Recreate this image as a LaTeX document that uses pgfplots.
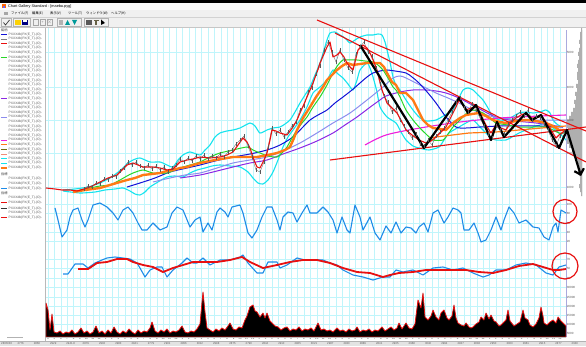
\documentclass[border=0pt]{standalone}
\usepackage{fontspec}
\setmainfont{Liberation Sans}
\newfontfamily\jp{Noto Sans CJK JP}
\usepackage{pgfplots}
\pgfplotsset{compat=1.18}
\usetikzlibrary{arrows.meta}
\definecolor{gridc}{RGB}{192,245,251}
\definecolor{bandc}{RGB}{20,228,238}
\definecolor{mared}{RGB}{232,16,16}
\definecolor{maorange}{RGB}{255,122,20}
\definecolor{magreen}{RGB}{40,215,40}
\definecolor{mablue}{RGB}{18,18,215}
\definecolor{malav}{RGB}{140,140,238}
\definecolor{mapurple}{RGB}{140,40,228}
\definecolor{mamag}{RGB}{238,30,220}
\definecolor{oscblue}{RGB}{30,140,232}
\definecolor{histg}{RGB}{175,175,175}
\definecolor{chromec}{RGB}{240,240,240}
\definecolor{edgelav}{RGB}{170,170,222}
\definecolor{myolive}{RGB}{110,110,20}
\definecolor{mysalmon}{RGB}{240,140,120}
\newcommand\tf{\fontsize{3.3}{3.6}\selectfont}
\pgfplotsset{panel/.style={scale only axis, width=520pt, xmin=46, xmax=566,
  anchor=south west, axis line style={draw=none}, tick style={draw=none},
  xtick={48,54.4,...,560}, xticklabels={}, grid=major,
  major grid style={gridc, line width=0.4pt}, clip=false,
  yticklabel pos=right,
  yticklabel style={font=\fontsize{3}{3}\selectfont, text=gray!70!black, inner sep=0.6pt}}}
\begin{document}
\begin{tikzpicture}[x=1pt,y=1pt]
\useasboundingbox (0,0) rectangle (586,346);
\fill[white] (0,0) rectangle (586,346);
% window chrome
\fill[chromec] (0,318) rectangle (586,343);
\fill[white!97!gray] (0,336) rectangle (586,343);
\fill[black] (0,343) rectangle (586,346);
\draw[gray!45, line width=0.5pt] (0,318.3) -- (586,318.3);
\draw[gray!35, line width=0.4pt] (0,328.6) -- (586,328.6);
\fill[orange!80!red] (2,337.6) rectangle (6,341.6);
\fill[blue!60] (3,338.3) rectangle (5,340.2);
\node[anchor=west, inner sep=0, font=\fontsize{3.8}{4}\selectfont] at (8,339.6) {Chart Gallery Standard - [maeba.pyg]};
\fill[gray!70] (4,330.5) rectangle (8,334);
\node[anchor=west, inner sep=0, font=\jp\fontsize{3.3}{4}\selectfont] at (11,332.2) {ファイル(F)};
\node[anchor=west, inner sep=0, font=\jp\fontsize{3.3}{4}\selectfont] at (32,332.2) {編集(E)};
\node[anchor=west, inner sep=0, font=\jp\fontsize{3.3}{4}\selectfont] at (50,332.2) {表示(V)};
\node[anchor=west, inner sep=0, font=\jp\fontsize{3.3}{4}\selectfont] at (68,332.2) {ツール(T)};
\node[anchor=west, inner sep=0, font=\jp\fontsize{3.3}{4}\selectfont] at (86,332.2) {ウィンドウ(W)};
\node[anchor=west, inner sep=0, font=\jp\fontsize{3.3}{4}\selectfont] at (111,332.2) {ヘルプ(H)};
% toolbar icons
\draw[gray!60] (1.5,319.5) rectangle (11.5,327.5);
\draw[black!80, line width=0.7pt] (3.5,323.5) -- (5.5,321) -- (9.5,326);
\draw[gray!60] (13,319.5) rectangle (30,327.5);
\fill[yellow!70!orange] (14.5,321) rectangle (20.5,326);
\fill[blue!50!black] (22,321) rectangle (28,326);
\fill[white] (23.2,323.8) rectangle (26.8,326);
\foreach \xx in {33,40,47} {\draw[gray!70, line width=0.4pt] (\xx,320.5) rectangle (\xx+5.5,326.5);}
\node[font=\fontsize{3.5}{4}\selectfont, text=gray] at (42.7,323.5) {+};
\node[font=\fontsize{3.5}{4}\selectfont, text=gray] at (49.7,323.5) {$\times$};
\draw[gray!60] (57,319.5) rectangle (81,327.5);
\fill[gray!60] (59,321) rectangle (63,326);
\fill[teal!80!cyan] (65,321) -- (70,321) -- (67.5,326) -- cycle;
\fill[teal!80!cyan] (72,326) -- (77,326) -- (74.5,321) -- cycle;
\draw[gray!60] (84,319.5) rectangle (108,327.5);
\fill[gray!70!black] (86,321) rectangle (92,326);
\fill[black!70!yellow] (95,321) rectangle (97,326);
\fill[black!70!yellow] (93.5,324.5) rectangle (98.5,326.3);
\fill[black] (101,321) -- (101,326.5) -- (105,323) -- cycle;
% left panel
\draw[gray!55, line width=1pt] (45,4.5) -- (45,318);
\node[anchor=west, inner sep=0, font=\jp\fontsize{3.2}{3.6}\selectfont, text=black!75] at (1,316) {銘柄};
\foreach \i in {0,...,29} {
  \node[anchor=west, inner sep=0, font=\tf, text=black!65] at (8.5,346-34.3-4.6*\i) {PXXXdb(PX(E\_T)-(O)-};
}
\foreach \i/\c/\w in {0/mablue/0.9, 1/gray/0.4, 2/mared/0.9, 5/magreen/0.9, 14/mapurple/0.9, 18/malav/0.9, 23/mamag/0.9, 24/maorange/0.9, 25/myolive/1.6, 26/mysalmon/0.7, 27/bandc/0.9, 28/bandc/0.9, 29/maorange/1.6} {
  \draw[\c, line width=\w pt] (1,346-34.3-4.6*\i) -- (7,346-34.3-4.6*\i);
}
\node[anchor=west, inner sep=0, font=\jp\fontsize{3.2}{3.6}\selectfont, text=black!75] at (1,172) {指標};
\foreach \py in {179,183.6,188.2,197.8,202.4,208.7,213,217.3} {
  \node[anchor=west, inner sep=0, font=\tf, text=black!65] at (8.5,346-\py) {PXXXdb(PX(E\_T)-(O)-};
}
\node[anchor=west, inner sep=0, font=\jp\fontsize{3.2}{3.6}\selectfont, text=black!75] at (1,153) {指標};
\draw[oscblue, line width=0.9pt] (1,346-188.2) -- (7,346-188.2);
\draw[mared, line width=1.2pt] (1,346-202.4) -- (7,346-202.4);
\draw[black!80, line width=0.9pt] (1,346-208.7) -- (7,346-208.7);
\draw[mared, line width=1.2pt] (1,346-217.3) -- (7,346-217.3);
\draw[gray!60, line width=0.8pt] (7,8.3) -- (23,8.3);
% bottom date strip
\fill[gray!22] (0,0) rectangle (586,4.4);
\draw[gray!60, line width=0.3pt] (0,4.4) -- (586,4.4);
\foreach \t [count=\k from 0] in {28/05/30,2776,2858,2929,2941.8,2879,2902,2983,2941,2779,2901,2956,3012,2998,2875,2790,2844,2910,2965,3021,2987,2930,2889,2841,2905,2968,3040,2994,2937,2882,2950,3003,2961,2915,2877,2930} {
  \node[anchor=west, inner sep=0, font=\fontsize{2.8}{3}\selectfont, text=black!65] at (1+16.3*\k,2.2) {\t};
}
% volume profile (right of price panel)
\begin{axis}[at={(566pt,150pt)}, anchor=south west, scale only axis, width=16pt, height=168pt,
  xmin=0, xmax=16, ymin=-4, ymax=164, x dir=reverse, hide axis]
\addplot[xbar interval, fill=histg, draw=none] coordinates {
 (1,-4) (2,0) (3,4) (2,8) (2,12) (3,16) (4,20) (3,24) (4,28) (5,32) (7,36) (10,40)
 (13,44) (16,48) (15,52) (16,56) (14,60) (16,64) (15,68) (13,72) (11,76) (9,80)
 (7,84) (8,88) (6,92) (7,96) (5,100) (6,104) (4,108) (5,112) (5,116) (4,120)
 (5,124) (4,128) (3,132) (4,136) (3,140) (2,144) (3,148) (2,152) (2,156) (1,160) (1,164)};
\draw[gray!70, line width=0.6pt] (axis cs:0,-4) -- (axis cs:0,162);
\end{axis}
\draw[edgelav, line width=0.8pt] (566,9) -- (566,316);
% price panel
\begin{axis}[panel, at={(46pt,150pt)}, height=168pt, ymin=-4, ymax=164,
  ytick={5,39,72,105,140}, yticklabels={1000,2000,3000,4000,5000}]
\addplot[bandc, line width=1.1pt, smooth, tension=0.4] coordinates {
 (63,2) (75,3) (88,5) (100,9) (110,14) (117,19) (123,24) (128,29) (133,32) (140,34)
 (150,30) (160,30) (167,27) (173,25) (178,32) (183,37) (190,40) (200,37) (205,42)
 (210,47) (215,55) (220,59) (227,61) (233,62) (240,64) (250,69) (255,66) (260,59)
 (267,62) (273,64) (280,65) (285,68) (290,72) (295,80) (300,89) (305,97) (310,105)
 (315,117) (320,129) (324,142) (327,152) (330,159) (335,160) (340,157) (345,154)
 (350,149) (355,152) (360,155) (367,157) (373,157) (378,158) (382,157) (385,150)
 (387,142) (390,130) (393,115) (396,107) (400,102) (406,92) (413,82) (419,75)
 (426,71) (436,72) (445,77) (453,82) (458,92) (463,102) (468,104) (473,102)
 (478,97) (483,92) (488,84) (493,75) (500,72) (506,72) (512,75) (519,79) (526,80)
 (533,79) (540,80) (546,82) (550,79) (553,72) (558,67) (563,65)};
\addplot[bandc, line width=1.1pt, smooth, tension=0.4] coordinates {
 (63,1) (80,-1) (95,0) (105,2) (115,3) (123,4) (130,1) (135,-2) (140,-3) (145,0)
 (150,5) (158,10) (167,15) (175,16) (183,15) (190,19) (197,22) (205,24) (212,26)
 (220,27) (230,26) (240,25) (248,20) (253,14) (258,9) (263,8) (268,12) (273,20)
 (278,32) (283,45) (288,55) (293,62) (300,72) (307,85) (313,99) (320,105) (327,112)
 (333,122) (338,118) (343,114) (348,108) (353,102) (357,112) (360,122) (367,129)
 (370,124) (373,115) (377,100) (380,85) (387,75) (396,69) (401,60) (406,52)
 (413,46) (419,44) (429,42) (439,45) (444,52) (449,59) (459,65) (466,69) (473,72)
 (480,65) (486,59) (491,54) (496,52) (506,52) (512,55) (519,59) (526,62) (533,65)
 (540,67) (546,69) (553,64) (559,59) (566,52)};
\addplot[mapurple, line width=1pt, smooth] coordinates {
 (180,14) (200,17) (217,21) (233,25) (250,29) (267,32) (283,38) (300,44) (317,51)
 (333,59) (345,67) (357,75) (365,81) (373,87) (380,92) (386,96) (400,100) (413,102)
 (426,102) (436,101) (446,99) (459,94) (476,85) (496,75) (516,71) (536,69) (563,65)};
\addplot[malav, line width=1pt, smooth] coordinates {
 (153,10) (170,14) (185,17) (200,19) (217,24) (233,29) (250,32) (267,35) (283,41)
 (300,49) (317,59) (333,69) (350,79) (367,92) (383,105) (393,114) (400,116)
 (406,114) (420,107) (436,99) (448,94) (459,89) (473,82) (490,76) (510,73)
 (530,72) (550,72) (566,72)};
\addplot[mablue, line width=1pt, smooth] coordinates {
 (127,5) (140,9) (155,14) (170,20) (187,24) (200,27) (215,31) (233,35) (250,38)
 (267,42) (280,47) (293,55) (302,64) (310,72) (318,77) (327,82) (335,89) (343,95)
 (352,102) (360,109) (367,115) (373,119) (380,121) (387,122) (395,121) (406,119)
 (412,115) (419,109) (428,99) (436,89) (446,75) (456,65) (466,64) (480,65)
 (500,66) (520,66) (540,66) (563,65)};
\addplot[mamag, line width=1.1pt, smooth] coordinates {
 (365,47) (386,57) (420,64) (460,70) (500,74) (540,76) (566,77)};
\addplot[magreen, line width=1pt, smooth, tension=0.4] coordinates {
 (80,2) (90,4) (100,6) (110,7) (120,12) (127,16) (133,19) (143,22) (153,19) (167,19)
 (180,24) (190,27) (200,30) (210,35) (220,39) (233,42) (247,45) (253,42) (260,39)
 (268,36) (277,35) (283,40) (287,45) (292,54) (297,62) (302,69) (307,75) (313,85)
 (320,95) (327,107) (333,119) (338,127) (343,132) (350,132) (357,132) (365,131)
 (373,130) (378,127) (383,122) (388,114) (393,105) (396,102) (400,95) (406,82)
 (413,72) (419,65) (426,58) (433,52) (443,52) (448,58) (453,65) (458,70) (463,75)
 (468,80) (473,82) (478,81) (483,79) (490,74) (496,69) (508,67) (519,65) (533,65)
 (546,65) (553,62) (559,59) (566,59)};
\addplot[maorange, line width=1.2pt] coordinates {
 (430,54) (436,55) (469,59) (496,60) (519,62) (553,65) (566,66)};
\addplot[black!60, line width=0.35pt, mark=|, mark size=1.6pt, mark options={line width=0.4pt, black!65}] coordinates {
 (84,3) (88,6) (92,5) (96,9) (100,8) (104,13) (108,12) (112,16) (116,15) (120,21)
 (124,24) (128,30) (132,27) (136,30) (140,26) (144,24) (148,27) (152,23) (156,26)
 (160,22) (164,25) (168,20) (172,24) (176,27) (180,33) (184,30) (188,34) (192,31)
 (196,36) (200,33) (204,37) (208,33) (212,36) (216,34) (220,38) (224,35) (228,40)
 (232,42) (236,48) (240,52) (244,56) (248,46) (252,35) (256,22) (260,20) (264,30)
 (268,45) (272,64) (276,58) (280,62) (284,55) (288,60) (292,66) (296,70) (300,82)
 (304,86) (308,100) (312,104) (316,118) (320,126) (324,142) (328,150) (332,140)
 (336,130) (340,142) (344,132) (348,124) (352,120) (356,138) (360,145) (364,150)
 (368,140) (372,136) (376,124) (380,108) (384,96) (388,90) (392,80) (396,84)
 (400,72) (404,66) (408,60) (412,54) (416,58) (420,48) (424,46) (428,52) (432,47)
 (436,56) (440,60) (444,64) (448,72) (452,80) (456,90) (460,94) (464,84) (468,80)
 (472,88) (476,82) (480,74) (484,66) (488,58) (492,54) (496,66) (500,62) (504,58)
 (508,68) (512,72) (516,76) (520,80) (524,76) (528,82) (532,72) (536,76) (540,74)
 (544,68) (548,62) (552,52) (556,46) (560,56) (564,60)};
\addplot[maorange, line width=2.4pt, line join=round] coordinates {
 (73,0) (85,2) (100,4) (110,7) (120,10) (127,12) (135,14) (143,17) (152,18) (160,19)
 (167,21) (173,22) (180,24) (187,25) (193,27) (200,29) (215,32) (233,35) (245,35)
 (257,35) (268,37) (277,39) (285,42) (290,45) (294,54) (297,62) (303,74) (310,85)
 (316,95) (323,105) (327,112) (332,117) (337,122) (342,126) (347,129) (353,127)
 (360,128) (367,129) (373,129) (380,129) (384,125) (387,119) (392,110) (396,107)
 (400,99) (406,99) (413,92) (418,82) (423,72) (428,67) (433,64) (440,63) (446,62)
 (453,69) (460,74) (466,77) (472,78) (479,79) (486,76) (493,72) (500,70) (506,69)
 (516,71) (526,72) (536,71) (546,69) (553,66) (559,62) (564,62)};
\addplot[mared, line width=1.1pt, line join=round] coordinates {
 (46,4) (55,3) (62,2) (70,2) (77,1) (84,3) (90,5) (100,10) (108,14) (117,17) (122,22)
 (127,27) (133,29) (138,27) (143,25) (153,25) (160,24) (167,22) (173,23) (180,30)
 (187,32) (193,33) (200,35) (210,34) (220,35) (227,37) (233,40) (238,47) (243,54)
 (247,50) (250,44) (254,32) (257,25) (260,24) (264,32) (267,39) (270,52) (272,62)
 (276,61) (280,59) (287,57) (293,65) (297,72) (300,79) (304,88) (307,95) (310,102)
 (313,109) (317,120) (320,129) (324,138) (327,145) (330,150) (333,135) (337,137)
 (340,140) (344,135) (347,129) (350,125) (353,122) (356,134) (358,142) (363,147)
 (367,144) (370,139) (374,130) (377,122) (382,102) (387,89) (392,84) (397,79)
 (402,70) (406,62) (412,57) (419,52) (426,49) (431,51) (436,55) (441,60) (446,65)
 (451,75) (456,85) (459,92) (463,87) (466,82) (471,84) (476,85) (481,77) (486,67)
 (491,59) (496,67) (501,64) (506,62) (511,70) (516,74) (521,77) (526,79) (531,74)
 (536,74) (541,76) (546,70) (551,62) (556,54) (559,57) (563,60) (566,62)};
\addplot[mared, line width=1.1pt] coordinates {(317,172) (586,61)};
\addplot[mared, line width=1.1pt] coordinates {(335,159) (586,30)};
\addplot[mared, line width=1.1pt] coordinates {(330,32) (586,65)};
\addplot[black, line width=2.2pt, line join=round, -{Straight Barb[length=5pt,width=10pt]}] coordinates {
 (360,147) (424,44) (459,94) (468,79) (476,87) (491,52) (497,70) (504,55) (526,79)
 (532,72) (541,77) (559,44) (567,62) (581,16)};
\end{axis}
% oscillator 1
\begin{axis}[panel, at={(46pt,96pt)}, height=54pt, ymin=0, ymax=54,
  ytick={9,18,27,37,46}, yticklabels={20,40,60,80,100}]
\addplot[oscblue, line width=1.1pt, line join=round] coordinates {
 (55,42) (58,30) (62,13) (67,20) (70,33) (73,40) (78,42) (82,30) (85,23) (88,30)
 (93,45) (100,47) (107,43) (113,37) (118,30) (123,40) (128,43) (133,37) (138,27)
 (142,20) (147,20) (153,27) (160,20) (167,23) (172,37) (177,43) (183,40) (190,23)
 (195,30) (200,33) (203,18) (208,27) (212,20) (217,38) (220,42) (225,38) (228,33)
 (232,43) (240,45) (243,37) (248,17) (252,12) (257,20) (262,33) (267,43) (272,43)
 (277,30) (280,20) (283,33) (288,38) (293,37) (297,28) (302,37) (307,45) (310,37)
 (317,37) (323,43) (328,38) (333,30) (337,17) (342,33) (347,20) (350,17) (355,45)
 (360,33) (363,20) (370,33) (375,17) (380,10) (386,24) (391,17) (396,28) (401,17)
 (406,23) (411,22) (416,17) (419,23) (424,27) (428,18) (433,37) (438,40) (444,27)
 (448,33) (453,42) (458,40) (461,37) (464,20) (469,20) (474,27) (478,17) (481,8)
 (486,10) (491,20) (496,33) (501,20) (504,30) (509,43) (514,37) (519,27) (526,30)
 (533,23) (539,22) (544,13) (549,10) (553,23) (556,27) (558,18) (561,40) (566,37)};
\addplot[mared, line width=1.2pt, only marks, mark=o, mark size=12pt] coordinates {(565,38.5)};
\end{axis}
% oscillator 2
\begin{axis}[panel, at={(46pt,61pt)}, height=35pt, ymin=0, ymax=35,
  ytick={7,17,26}, yticklabels={30,50,70}]
\addplot[oscblue, line width=1.1pt, line join=round] coordinates {
 (63,11) (68,11) (75,21) (83,21) (88,17) (95,22) (102,25) (107,27) (115,28) (123,27)
 (130,26) (137,22) (140,17) (145,8) (150,15) (157,18) (162,18) (167,8) (173,15)
 (182,22) (187,27) (193,22) (197,22) (203,27) (210,20) (220,25) (230,25) (240,28)
 (243,30) (248,22) (257,12) (263,12) (268,23) (277,23) (280,17) (287,20) (297,27)
 (305,25) (313,25) (323,25) (330,22) (337,20) (343,15) (353,10) (363,8) (373,5)
 (383,8) (390,8) (396,15) (403,13) (413,15) (423,10) (433,17) (443,18) (453,15)
 (463,17) (473,12) (483,8) (489,10) (496,15) (506,15) (516,20) (526,22) (536,20)
 (546,12) (553,10) (559,18) (566,20)};
\addplot[mared, line width=1.8pt, line join=round] coordinates {
 (78,16) (88,16) (97,22) (107,23) (117,26) (127,26) (133,23) (143,20) (153,18)
 (163,13) (173,17) (183,20) (193,23) (203,23) (217,23) (230,25) (242,28) (250,23)
 (263,17) (277,20) (290,23) (303,25) (317,25) (330,22) (343,17) (357,13) (370,12)
 (383,8) (390,10) (399,12) (413,13) (426,15) (439,15) (453,15) (466,15) (479,13)
 (493,12) (506,15) (519,19) (533,21) (543,18) (553,15) (559,15) (566,16)};
\addplot[mared, line width=1.2pt, only marks, mark=o, mark size=13pt] coordinates {(565,19)};
\end{axis}
% volume
\begin{axis}[panel, at={(46pt,9pt)}, height=52pt, ymin=1, ymax=53, clip=true,
  ytick={5,14,23,32,41,51}, yticklabels={5000,10000,15000,20000,25000,30000},
  xticklabels={4,5,6,7,8,9,10,11,12,1,2,3,4,5,6,7,8,9,10,11,12,1,2,3,4,5,6,7,8,9,10,11,12,1,2,3,4,5,6,7,8,9,10,11,12,1,2,3,4,5,6,7,8,9,10,11,12,1,2,3,4,5,6,7,8,9,10,11,12,1,2,3,4,5,6,7,8,9,10,11,12},
  xticklabel style={font=\fontsize{2.8}{3}\selectfont, inner sep=0.3pt, text=black!80},
  xtick pos=bottom, xticklabel pos=bottom]
\addplot[fill=black, draw=mared, line width=0.8pt, line join=round] coordinates {
 (46,35) (48,28) (50,8) (52,24) (54,6) (57,5) (60,7) (63,4) (66,6) (69,5) (72,8)
 (75,4) (78,6) (81,10) (84,5) (87,7) (90,4) (93,6) (96,12) (99,5) (102,7) (105,4)
 (108,8) (111,5) (114,11) (117,6) (120,4) (123,7) (126,5) (129,9) (132,6) (135,4)
 (138,8) (141,5) (144,7) (147,6) (150,10) (152,16) (155,7) (158,5) (161,8) (164,6)
 (167,9) (170,5) (173,7) (176,6) (179,8) (182,12) (185,6) (188,5) (191,7) (194,6)
 (197,9) (200,14) (202,36) (203,46) (205,26) (207,10) (210,8) (213,6) (216,9)
 (219,7) (222,10) (225,8) (228,12) (230,15) (233,9) (236,8) (239,11) (242,10)
 (245,18) (247,22) (250,31) (253,33) (255,27) (257,26) (260,21) (263,25) (265,20)
 (267,25) (270,17) (272,15) (275,12) (278,11) (281,8) (284,10) (287,11) (290,7)
 (293,9) (296,8) (299,11) (302,7) (305,9) (308,8) (311,10) (314,7) (318,15) (321,8)
 (324,9) (327,7) (330,8) (333,6) (337,10) (340,7) (343,8) (346,6) (349,9) (352,7)
 (355,8) (357,11) (360,6) (363,8) (366,7) (369,9) (372,6) (375,8) (378,7) (382,11)
 (385,7) (388,9) (391,11) (394,8) (397,10) (399,15) (402,9) (404,12) (406,15)
 (409,10) (412,9) (415,14) (418,38) (421,30) (423,45) (425,21) (428,18) (431,22)
 (433,28) (436,21) (439,18) (441,25) (444,28) (447,20) (449,18) (452,22) (454,33)
 (456,20) (458,15) (461,13) (464,12) (466,15) (469,11) (471,10) (473,11) (476,14)
 (479,16) (481,21) (484,18) (486,25) (489,19) (491,23) (494,17) (496,16) (499,12)
 (501,13) (503,15) (506,18) (508,28) (510,17) (514,12) (517,14) (520,16) (523,28)
 (525,20) (528,18) (530,13) (533,11) (536,14) (539,20) (541,31) (543,22) (544,15)
 (547,13) (550,16) (553,18) (556,15) (558,21) (561,17) (563,15) (566,12)} \closedcycle;
\end{axis}
\draw[gray!50, line width=0.3pt] (46,9) -- (566,9);
\end{tikzpicture}
\end{document}
